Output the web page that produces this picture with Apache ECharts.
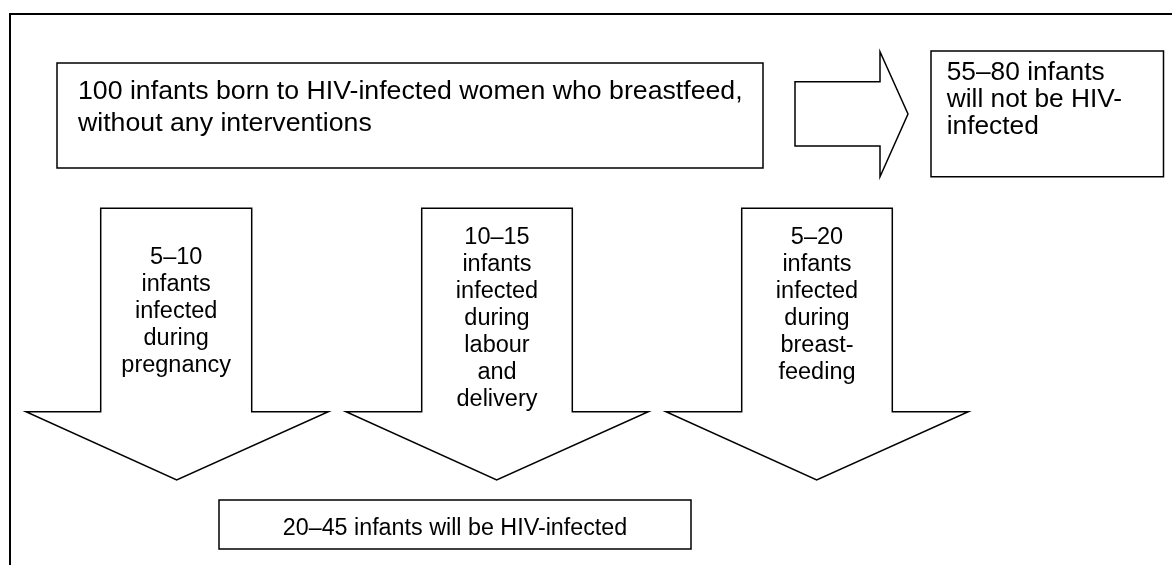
<!DOCTYPE html>
<html>
<head>
<meta charset="utf-8">
<style>html,body{margin:0;padding:0;background:#fff;}#c{width:1172px;height:565px;}</style>
<script src="https://cdn.jsdelivr.net/npm/echarts@6/dist/echarts.min.js"></script>
</head>
<body>
<div id="c"></div>
<script>
// ---- content ----
var sourceText = ['100 infants born to HIV-infected women who breastfeed,', 'without any interventions'];
var notInfectedText = ['55\u201380 infants', 'will not be HIV-', 'infected'];
var routeTexts = [
  ['5\u201310', 'infants', 'infected', 'during', 'pregnancy'],
  ['10\u201315', 'infants', 'infected', 'during', 'labour', 'and', 'delivery'],
  ['5\u201320', 'infants', 'infected', 'during', 'breast-', 'feeding']
];
var infectedText = ['20\u201345 infants will be HIV-infected'];

// ---- layout (pixels) ----
var FONT = '"Liberation Sans", Arial, sans-serif';
var downArrows = [
  {sl: 100.7, sr: 251.7, hl: 26, hr: 328.3, tip: 176.7, textTop: 243.5},
  {sl: 421.7, sr: 572.3, hl: 346, hr: 648.3, tip: 496.7, textTop: 223.5},
  {sl: 741.7, sr: 892.3, hl: 666, hr: 968.3, tip: 816.7, textTop: 223.5}
];
var arrowTop = 208.3, arrowNeck = 411.7, arrowTipY = 480;

var elements = [];
// outer frame (open right / bottom)
elements.push({type: 'polyline', shape: {points: [[10, 566], [10, 14], [1173, 14]]},
  style: {stroke: '#000', lineWidth: 2, fill: null}});
// source box
elements.push({type: 'rect', shape: {x: 57, y: 63, width: 706, height: 105},
  style: {stroke: '#000', lineWidth: 1.5, fill: '#fff'}});
elements.push({type: 'text', style: {x: 78, y: 76, text: sourceText.join('\n'), font: '26.7px ' + FONT,
  lineHeight: 31.5, fill: '#000', textAlign: 'left', textVerticalAlign: 'top'}});
// right arrow
elements.push({type: 'polygon', shape: {points: [[795, 81.7], [880, 81.7], [880, 51.7], [908, 114], [880, 176.7], [880, 146], [795, 146]]},
  style: {stroke: '#000', lineWidth: 1.5, fill: '#fff'}});
// not infected box
elements.push({type: 'rect', shape: {x: 931, y: 51, width: 232.5, height: 125.7},
  style: {stroke: '#000', lineWidth: 1.5, fill: '#fff'}});
elements.push({type: 'text', style: {x: 946.7, y: 59.5, text: notInfectedText.join('\n'), font: '26.3px ' + FONT,
  lineHeight: 26.7, fill: '#000', textAlign: 'left', textVerticalAlign: 'top'}});
// down arrows
downArrows.forEach(function (a, i) {
  elements.push({type: 'polygon', shape: {points: [[a.sl, arrowTop], [a.sr, arrowTop], [a.sr, arrowNeck], [a.hr, arrowNeck],
      [a.tip, arrowTipY], [a.hl, arrowNeck], [a.sl, arrowNeck]]},
    style: {stroke: '#000', lineWidth: 1.5, fill: '#fff'}});
  elements.push({type: 'text', style: {x: (a.sl + a.sr) / 2, y: a.textTop, text: routeTexts[i].join('\n'), font: '23.5px ' + FONT,
    lineHeight: 27.1, fill: '#000', textAlign: 'center', textVerticalAlign: 'top'}});
});
// infected box
elements.push({type: 'rect', shape: {x: 219, y: 500, width: 472, height: 49},
  style: {stroke: '#000', lineWidth: 1.5, fill: '#fff'}});
elements.push({type: 'text', style: {x: 455, y: 529, text: infectedText.join('\n'), font: '23.3px ' + FONT,
  fill: '#000', textAlign: 'center', textVerticalAlign: 'middle'}});

var chart = echarts.init(document.getElementById('c'), null, {renderer: 'canvas'});
chart.setOption({
  backgroundColor: '#fff',
  animation: false,
  graphic: {elements: elements}
});
</script>
</body>
</html>
